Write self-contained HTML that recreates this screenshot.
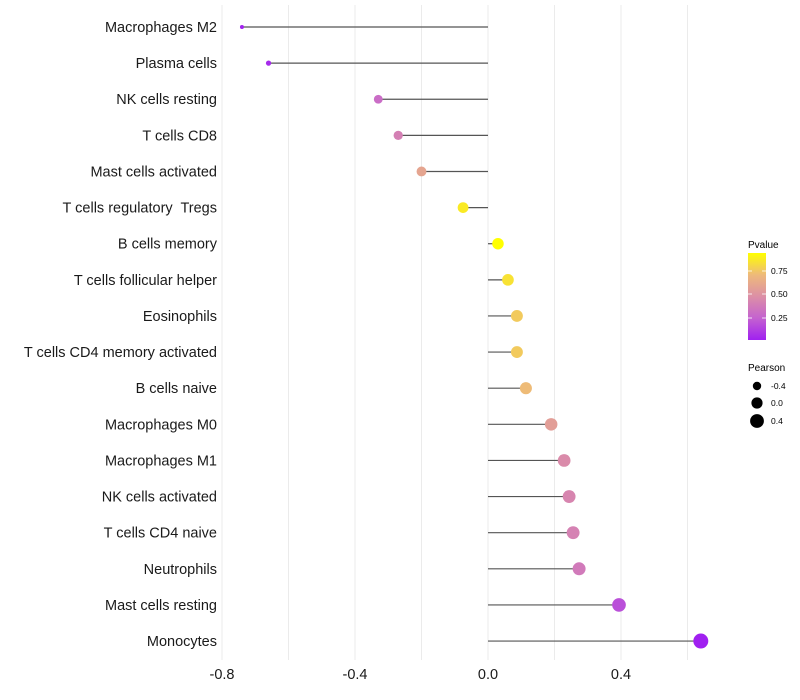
<!DOCTYPE html>
<html><head><meta charset="utf-8"><style>
body{margin:0;background:#fff;font-family:"Liberation Sans",sans-serif;}
svg{display:block}
text{white-space:pre}
</style></head><body>
<svg id="chart" width="800" height="700" xmlns="http://www.w3.org/2000/svg">
<defs><linearGradient id="pg" x1="0" y1="1" x2="0" y2="0">
<stop offset="0" stop-color="#a020f0"/><stop offset="0.25" stop-color="#c462d0"/><stop offset="0.5" stop-color="#dc8fa6"/><stop offset="0.75" stop-color="#eeba7a"/><stop offset="1" stop-color="#ffff00"/></linearGradient></defs>
<g id="grid"></g>
<g id="marks"></g>
<g id="ylabels"></g>
<g id="xlabels"></g>
<g>
<text x="748" y="248" font-size="10" fill="#000">Pvalue</text>
<rect x="748" y="253" width="18" height="87" fill="url(#pg)"/>
<g stroke="#fff" stroke-width="0.8"><line x1="748" x2="752" y1="271" y2="271"/><line x1="762" x2="766" y1="271" y2="271"/><line x1="748" x2="752" y1="294" y2="294"/><line x1="762" x2="766" y1="294" y2="294"/><line x1="748" x2="752" y1="318" y2="318"/><line x1="762" x2="766" y1="318" y2="318"/></g>
<text x="771" y="274" font-size="8.5">0.75</text>
<text x="771" y="297" font-size="8.5">0.50</text>
<text x="771" y="321" font-size="8.5">0.25</text>
</g>
<g>
<text x="748" y="371" font-size="10">Pearson</text>
<circle cx="757" cy="386" r="4.2" fill="#000"/>
<circle cx="757" cy="403" r="5.6" fill="#000"/>
<circle cx="757" cy="421" r="6.9" fill="#000"/>
<text x="771" y="389" font-size="8.5">-0.4</text>
<text x="771" y="406" font-size="8.5">0.0</text>
<text x="771" y="424" font-size="8.5">0.4</text>
</g>
</svg>
<script>
const categories=["Macrophages M2","Plasma cells","NK cells resting","T cells CD8","Mast cells activated","T cells regulatory  Tregs","B cells memory","T cells follicular helper","Eosinophils","T cells CD4 memory activated","B cells naive","Macrophages M0","Macrophages M1","NK cells activated","T cells CD4 naive","Neutrophils","Mast cells resting","Monocytes"];
const pearson=[-0.74,-0.66,-0.33,-0.27,-0.2,-0.075,0.03,0.06,0.087,0.087,0.114,0.19,0.229,0.244,0.256,0.274,0.394,0.64];
const pvalue=[0.02,0.05,0.3,0.4,0.6,0.88,0.95,0.85,0.77,0.77,0.72,0.56,0.46,0.43,0.41,0.37,0.18,0.01];
const gridTicks=[-0.8,-0.6,-0.4,-0.2,0,0.2,0.4,0.6];
const xTickLabels=["-0.8","-0.4","0.0","0.4"];
const xTickValues=[-0.8,-0.4,0,0.4];
const NS="http://www.w3.org/2000/svg";
const x=v=>488+(v)*332.5;
const y=i=>27+i*36.12;
const stops=[[0,[160,32,240]],[0.25,[196,98,208]],[0.5,[220,143,166]],[0.75,[238,186,122]],[1,[255,255,0]]];
function col(p){const mn=Math.min(...pvalue),mx=Math.max(...pvalue);let t=(p-mn)/(mx-mn);
for(let k=1;k<stops.length;k++){if(t<=stops[k][0]){const a=stops[k-1],b=stops[k],u=(t-a[0])/(b[0]-a[0]);return `rgb(${a[1].map((c,j)=>Math.round(c+(b[1][j]-c)*u)).join(",")})`;}}return "rgb(255,255,0)";}
function rad(v){const mn=Math.min(...pearson),mx=Math.max(...pearson);const t=(v-mn)/(mx-mn);return Math.sqrt(4+52*t);}
function mk(tag,attrs,parent){const e=document.createElementNS(NS,tag);for(const k in attrs)e.setAttribute(k,attrs[k]);document.getElementById(parent).appendChild(e);return e;}
gridTicks.forEach(g=>{const l=mk("line",{x1:x(g),x2:x(g),y1:5,y2:660,stroke:"#ebebeb","stroke-width":1},"grid");

});
categories.forEach((c,i)=>{
const s=mk("line",{x1:x(0),x2:x(pearson[i]),y1:y(i),y2:y(i),stroke:"#555","stroke-width":1.2},"marks");


const p=mk("circle",{cx:x(pearson[i]),cy:y(i),r:rad(pearson[i]),fill:col(pvalue[i])},"marks");


const t=mk("text",{x:217,y:y(i)+5,"text-anchor":"end","font-size":"14.5",fill:"#1a1a1a"},"ylabels");
t.textContent=c;


});
xTickValues.forEach((v,i)=>{const t=mk("text",{x:x(v),y:679,"text-anchor":"middle","font-size":"14.5",fill:"#1a1a1a"},"xlabels");
t.textContent=xTickLabels[i];

});
</script>
</body></html>
